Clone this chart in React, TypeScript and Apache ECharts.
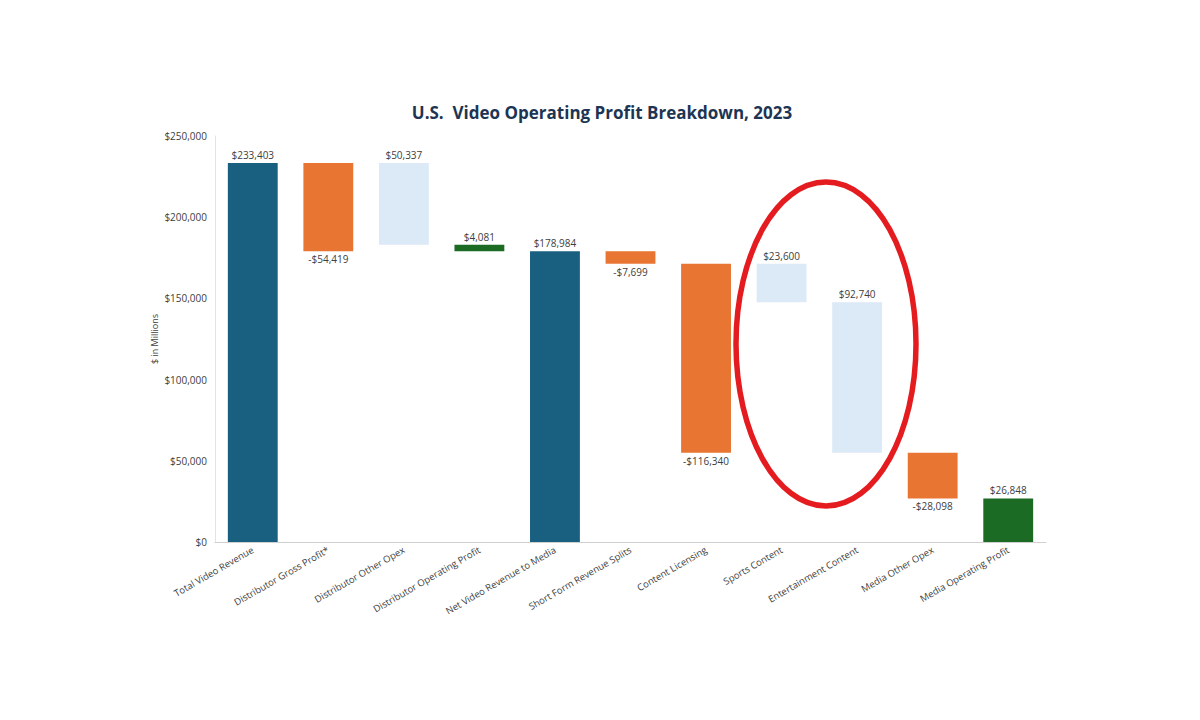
import React, { useEffect, useRef } from "react";
import * as echarts from "echarts";

const categories = [
  "Total Video Revenue",
  "Distributor Gross Profit*",
  "Distributor Other Opex",
  "Distributor Operating Profit",
  "Net Video Revenue to Media",
  "Short Form Revenue Splits",
  "Content Licensing",
  "Sports Content",
  "Entertainment Content",
  "Media Other Opex",
  "Media Operating Profit",
];

// Signed values shown in the labels
const values = [233403, -54419, 50337, 4081, 178984, -7699, -116340, 23600, 92740, -28098, 26848];

// Where each floating bar starts (invisible base of the stack)
const bases = [0, 178984, 183066, 178984, 0, 171285, 54945, 147685, 54945, 26847, 0];

// Bar kind decides the colour
const kinds = [
  "total", "decrease", "breakdown", "profit", "total", "decrease",
  "decrease", "breakdown", "breakdown", "decrease", "profit",
];

const yTicks = { min: 0, max: 250000, interval: 50000 };

const colors: Record<string, string> = {
  total: "#185f80",
  decrease: "#e97532",
  breakdown: "#dce9f6",
  profit: "#1c6b25",
};

const fmt = (v: number) =>
  (v < 0 ? "-$" : "$") + Math.abs(v).toLocaleString("en-US");

export default function App() {
  const ref = useRef<HTMLDivElement>(null);
  useEffect(() => {
    if (!ref.current) return;
    const chart = echarts.init(ref.current, null, { renderer: "svg" });
    const font = "'Open Sans', 'Noto Sans', sans-serif";
    chart.setOption({
      animation: false,
      backgroundColor: "#ffffff",
      textStyle: { fontFamily: font },
      title: {
        text: "U.S.  Video Operating Profit Breakdown, 2023",
        left: 597,
        textAlign: "center",
        top: 99,
        textStyle: { fontSize: 17, fontWeight: "bold", color: "#1d3553", fontFamily: font },
      },
      grid: { left: 215, right: 154, top: 136, bottom: 178, containLabel: false },
      xAxis: {
        type: "category",
        data: categories,
        axisLine: { lineStyle: { color: "#d0d0d0" } },
        axisTick: { show: false },
        axisLabel: {
          rotate: 30,
          interval: 0,
          margin: 7,
          fontSize: 9.5,
          color: "#404040",
          fontFamily: font,
        },
      },
      yAxis: {
        type: "value",
        min: yTicks.min,
        max: yTicks.max,
        interval: yTicks.interval,
        name: "$ in Millions",
        nameLocation: "middle",
        nameGap: 56,
        nameMoveOverlap: false,
        nameTextStyle: { fontSize: 9, color: "#404040", fontFamily: font },
        axisLine: { show: true, lineStyle: { color: "#e3e3e3" } },
        axisTick: { show: false },
        splitLine: { show: false },
        axisLabel: {
          fontSize: 10,
          color: "#404040",
          margin: 8,
          fontFamily: font,
          formatter: (v: number) => "$" + v.toLocaleString("en-US"),
        },
      },
      series: [
        {
          type: "bar",
          stack: "wf",
          barWidth: "66%",
          itemStyle: { color: "transparent" },
          emphasis: { disabled: true },
          data: bases,
        },
        {
          type: "bar",
          stack: "wf",
          barWidth: "66%",
          data: values.map((v, i) => ({
            value: Math.abs(v),
            itemStyle: { color: colors[kinds[i]] },
            label: {
              show: true,
              position: v < 0 ? "bottom" : "top",
              distance: 3,
              formatter: () => fmt(v),
              fontSize: 10,
              color: "#404040",
              fontFamily: font,
            },
          })),
        },
      ],
      graphic: [
        {
          type: "ellipse",
          shape: { cx: 826, cy: 344, rx: 90, ry: 162 },
          style: { fill: "none", stroke: "#e51c1f", lineWidth: 5.5 },
          z: 100,
        },
      ],
    });
    return () => chart.dispose();
  }, []);
  return (
    <div
      ref={ref}
      style={{ position: "absolute", left: 0, top: 0, width: 1200, height: 720 }}
    />
  );
}
